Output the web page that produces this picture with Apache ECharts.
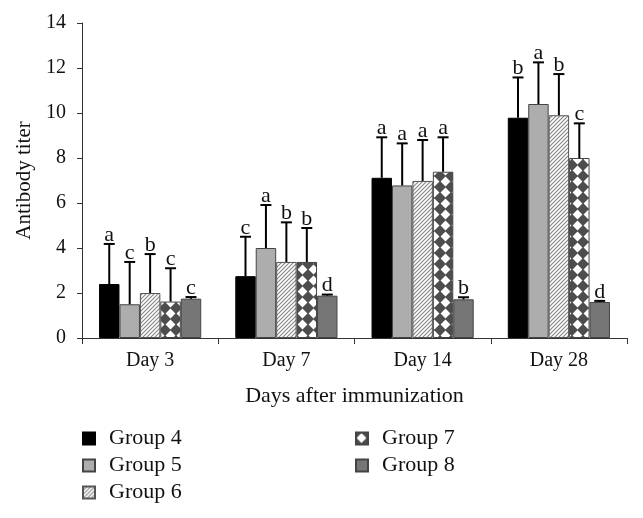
<!DOCTYPE html>
<html><head><meta charset="utf-8">
<script src="https://cdn.jsdelivr.net/npm/echarts@6/dist/echarts.min.js"></script>
<style>html,body{margin:0;padding:0;background:#fff}#c{width:643px;height:518px}</style>
</head><body><div id="c"></div>
<script>
const categories = ['Day 3', 'Day 7', 'Day 14', 'Day 28'];
const groups = ['Group 4', 'Group 5', 'Group 6', 'Group 7', 'Group 8'];
const g4 = [2.4, 2.75, 7.12, 9.79];
const g5 = [1.5, 4.0, 6.78, 10.4];
const g6 = [2.0, 3.38, 6.98, 9.9];
const g7 = [1.62, 3.38, 7.39, 8.0];
const g8 = [1.75, 1.88, 1.72, 1.6];
const sd4 = [1.78, 1.75, 1.80, 1.79];
const sd5 = [1.88, 1.91, 1.87, 1.85];
const sd6 = [1.73, 1.76, 1.82, 1.83];
const sd7 = [1.48, 1.51, 1.53, 1.54];
const sd8 = [0.07, 0.05, 0.09, 0.05];
const let4 = ['a', 'c', 'a', 'b'];
const let5 = ['c', 'a', 'a', 'a'];
const let6 = ['b', 'b', 'a', 'b'];
const let7 = ['c', 'b', 'a', 'c'];
const let8 = ['c', 'd', 'b', 'd'];
const yTicks = { min: 0, max: 14, interval: 2 };

const values = [g4, g5, g6, g7, g8];
const sds = [sd4, sd5, sd6, sd7, sd8];
const letters = [let4, let5, let6, let7, let8];

function hatch() {
  const s = 4, c = document.createElement('canvas');
  c.width = s; c.height = s;
  const x = c.getContext('2d');
  x.fillStyle = '#ffffff'; x.fillRect(0, 0, s, s);
  x.strokeStyle = '#888888'; x.lineWidth = 1.2;
  x.beginPath();
  x.moveTo(-1, s + 1); x.lineTo(s + 1, -1);
  x.moveTo(-1, 1); x.lineTo(1, -1);
  x.moveTo(s - 1, s + 1); x.lineTo(s + 1, s - 1);
  x.stroke();
  return { image: c, repeat: 'repeat' };
}
function diamonds() {
  const s = 11, c = document.createElement('canvas');
  c.width = s; c.height = s;
  const x = c.getContext('2d');
  x.fillStyle = '#4d4d4d'; x.fillRect(0, 0, s, s);
  x.fillStyle = '#ffffff';
  x.beginPath();
  x.moveTo(s / 2, 0.6); x.lineTo(s - 0.6, s / 2); x.lineTo(s / 2, s - 0.6); x.lineTo(0.6, s / 2);
  x.closePath(); x.fill();
  return { image: c, repeat: 'repeat' };
}

const fills = ['#000000', '#adadad', hatch(), diamonds(), '#767676'];
const borders = ['#000000', '#444444', '#555555', '#444444', '#444444'];
const font = 'Liberation Serif';

const errData = [];
groups.forEach((g, gi) => {
  categories.forEach((c, ci) => {
    errData.push([ci, gi, values[gi][ci], values[gi][ci] + sds[gi][ci]]);
  });
});

const series = groups.map((g, gi) => ({
  name: g,
  type: 'bar',
  data: values[gi],
  barGap: '0%',
  barCategoryGap: '25%',
  itemStyle: { color: fills[gi], borderColor: borders[gi], borderWidth: 1 },
  emphasis: { disabled: true },
  animation: false
}));

series.push({
  type: 'custom',
  data: errData,
  encode: { x: 0, y: 3 },
  z: 5,
  animation: false,
  renderItem: function (params, api) {
    const ci = api.value(0), gi = api.value(1), v = api.value(2), top = api.value(3);
    const b = api.coord([ci, v]);
    const t = api.coord([ci, top]);
    const catW = api.size([1, 0])[0];
    const bw = catW * 0.75 / 5;
    const xx = b[0] - 2.5 * bw + (gi + 0.5) * bw;
    const ltr = letters[gi][ci];
    return {
      type: 'group',
      children: [
        { type: 'line', shape: { x1: xx, y1: b[1], x2: xx, y2: t[1] }, style: { stroke: '#000', lineWidth: 2 } },
        { type: 'line', shape: { x1: xx - 5.5, y1: t[1], x2: xx + 5.5, y2: t[1] }, style: { stroke: '#000', lineWidth: 2 } },
        { type: 'text', x: xx, y: t[1] + 2, style: { text: ltr, fill: '#111', font: '22px "' + font + '"', align: 'center', verticalAlign: 'bottom' } }
      ]
    };
  }
});

const chart = echarts.init(document.getElementById('c'), null, { renderer: 'canvas' });
chart.setOption({
  animation: false,
  backgroundColor: '#ffffff',
  textStyle: { fontFamily: font },
  grid: { left: 82, right: 16, top: 23, bottom: 180, containLabel: false },
  legend: [
    {
      data: groups.slice(0, 3), orient: 'vertical', left: 77, top: 420,
      itemWidth: 12, itemHeight: 12, itemGap: 0, icon: 'rect',
      textStyle: { fontFamily: font, fontSize: 22, color: '#111', lineHeight: 27, padding: [0, 0, 0, 9] },
      selectedMode: false
    },
    {
      data: groups.slice(3), orient: 'vertical', left: 350, top: 420,
      itemWidth: 12, itemHeight: 12, itemGap: 0, icon: 'rect',
      textStyle: { fontFamily: font, fontSize: 22, color: '#111', lineHeight: 27, padding: [0, 0, 0, 9] },
      selectedMode: false
    }
  ],
  xAxis: {
    type: 'category',
    data: categories,
    name: 'Days after immunization',
    nameLocation: 'middle',
    nameGap: 47,
    nameTextStyle: { fontFamily: font, fontSize: 22, color: '#111' },
    axisLine: { lineStyle: { color: '#333', width: 1 } },
    axisTick: { show: true, length: 6, lineStyle: { color: '#333' } },
    axisLabel: { fontFamily: font, fontSize: 20, color: '#111', margin: 13 },
    splitLine: { show: false }
  },
  yAxis: {
    type: 'value',
    min: yTicks.min, max: yTicks.max, interval: yTicks.interval,
    name: 'Antibody titer',
    nameLocation: 'middle',
    nameGap: 47,
    nameTextStyle: { fontFamily: font, fontSize: 21, color: '#111' },
    axisLine: { show: true, lineStyle: { color: '#333', width: 1 } },
    axisTick: { show: true, length: 5, lineStyle: { color: '#333' } },
    axisLabel: { fontFamily: font, fontSize: 20, color: '#111', margin: 16 },
    splitLine: { show: false }
  },
  series: series
});
</script>
</body></html>
